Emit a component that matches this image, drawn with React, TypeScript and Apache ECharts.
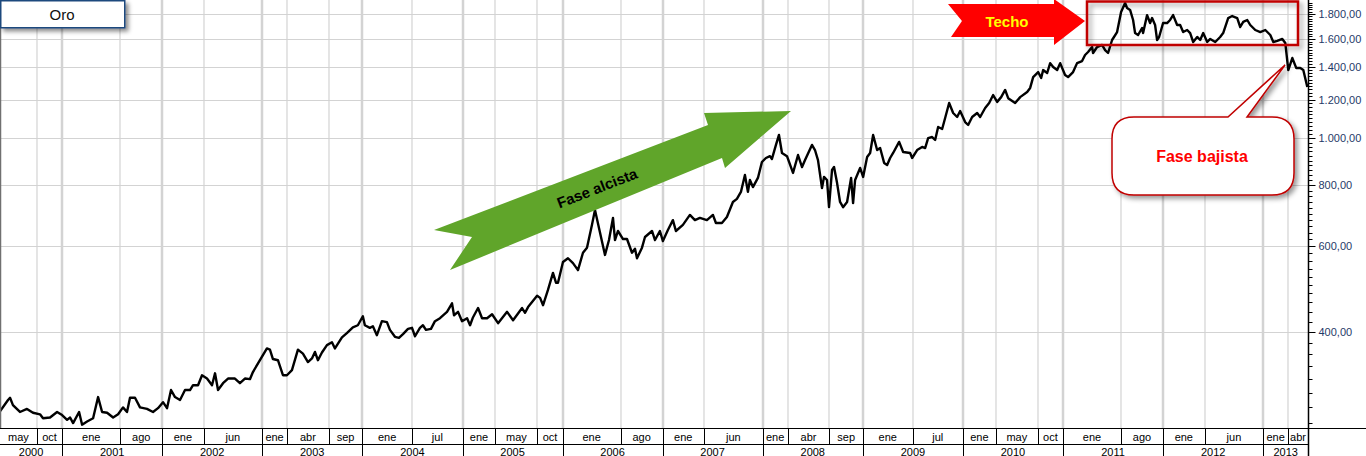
import React, { useEffect, useRef } from "react";
import * as echarts from "echarts";

const FONT = 'Arial, "Liberation Sans", Helvetica, sans-serif';

// Weekly-ish gold price (USD/oz); time in decimal years
const T_YEARS = [
  2000.380, 2000.460, 2000.480, 2000.509, 2000.579, 2000.649, 2000.709, 2000.779, 2000.809, 2000.879,
  2000.949, 2000.999, 2001.049, 2001.079, 2001.109, 2001.169, 2001.199, 2001.249, 2001.309, 2001.359,
  2001.399, 2001.449, 2001.509, 2001.559, 2001.608, 2001.648, 2001.678, 2001.728, 2001.778, 2001.848,
  2001.908, 2001.958, 2002.008, 2002.048, 2002.088, 2002.128, 2002.178, 2002.228, 2002.278, 2002.308,
  2002.358, 2002.398, 2002.448, 2002.498, 2002.528, 2002.558, 2002.608, 2002.658, 2002.727, 2002.777,
  2002.827, 2002.877, 2002.907, 2002.977, 2003.047, 2003.077, 2003.107, 2003.157, 2003.207, 2003.247,
  2003.297, 2003.357, 2003.407, 2003.457, 2003.497, 2003.527, 2003.557, 2003.597, 2003.647, 2003.697,
  2003.727, 2003.797, 2003.846, 2003.906, 2003.956, 2004.006, 2004.026, 2004.076, 2004.106, 2004.146,
  2004.196, 2004.246, 2004.276, 2004.326, 2004.366, 2004.406, 2004.456, 2004.496, 2004.526, 2004.575,
  2004.605, 2004.635, 2004.685, 2004.725, 2004.775, 2004.845, 2004.895, 2004.915, 2004.955, 2004.995,
  2005.045, 2005.075, 2005.105, 2005.155, 2005.195, 2005.245, 2005.295, 2005.355, 2005.445, 2005.505,
  2005.595, 2005.625, 2005.655, 2005.745, 2005.775, 2005.805, 2005.854, 2005.904, 2005.934, 2005.954,
  2006.004, 2006.054, 2006.104, 2006.154, 2006.204, 2006.244, 2006.294, 2006.324, 2006.364, 2006.424,
  2006.464, 2006.504, 2006.524, 2006.554, 2006.604, 2006.644, 2006.694, 2006.724, 2006.744, 2006.794,
  2006.824, 2006.894, 2006.924, 2006.973, 2007.003, 2007.053, 2007.103, 2007.133, 2007.203, 2007.273,
  2007.323, 2007.373, 2007.443, 2007.503, 2007.533, 2007.593, 2007.643, 2007.703, 2007.743, 2007.783,
  2007.823, 2007.853, 2007.873, 2007.903, 2007.953, 2007.993, 2008.033, 2008.073, 2008.093, 2008.133,
  2008.163, 2008.193, 2008.243, 2008.303, 2008.353, 2008.393, 2008.423, 2008.492, 2008.522, 2008.552,
  2008.592, 2008.612, 2008.642, 2008.662, 2008.692, 2008.712, 2008.742, 2008.772, 2008.802, 2008.842,
  2008.882, 2008.902, 2008.922, 2008.972, 2009.002, 2009.042, 2009.072, 2009.102, 2009.142, 2009.172,
  2009.212, 2009.242, 2009.272, 2009.302, 2009.362, 2009.402, 2009.472, 2009.492, 2009.542, 2009.592,
  2009.622, 2009.652, 2009.692, 2009.722, 2009.752, 2009.792, 2009.822, 2009.862, 2009.902, 2009.942,
  2009.972, 2010.022, 2010.052, 2010.092, 2010.142, 2010.172, 2010.222, 2010.262, 2010.302, 2010.342,
  2010.382, 2010.422, 2010.452, 2010.522, 2010.572, 2010.642, 2010.672, 2010.702, 2010.752, 2010.782,
  2010.802, 2010.842, 2010.872, 2010.902, 2010.942, 2010.972, 2011.021, 2011.051, 2011.101, 2011.141,
  2011.191, 2011.221, 2011.251, 2011.291, 2011.301, 2011.341, 2011.391, 2011.421, 2011.451, 2011.491,
  2011.541, 2011.581, 2011.621, 2011.641, 2011.671, 2011.701, 2011.721, 2011.751, 2011.791, 2011.801,
  2011.841, 2011.871, 2011.891, 2011.921, 2011.941, 2011.961, 2012.001, 2012.041, 2012.071, 2012.101,
  2012.141, 2012.171, 2012.201, 2012.241, 2012.271, 2012.301, 2012.341, 2012.371, 2012.401, 2012.441,
  2012.471, 2012.521, 2012.570, 2012.600, 2012.650, 2012.690, 2012.740, 2012.770, 2012.800, 2012.840,
  2012.870, 2012.920, 2012.970, 2013.020, 2013.070, 2013.100, 2013.140, 2013.190, 2013.220, 2013.250,
  2013.290, 2013.330, 2013.370, 2013.400, 2013.440,
];

const PRICES = [
  275, 290, 293, 283, 274, 278, 273, 271, 266, 267,
  274, 270, 264, 267, 260, 274, 258, 262, 266, 294,
  274, 273, 267, 271, 280, 274, 293, 293, 280, 278,
  274, 279, 287, 279, 304, 294, 290, 304, 304, 311,
  311, 326, 321, 311, 329, 304, 314, 321, 321, 314,
  321, 320, 331, 350, 370, 368, 352, 350, 326, 326,
  334, 368, 361, 347, 353, 364, 350, 363, 376, 381,
  370, 390, 398, 409, 413, 431, 413, 408, 411, 394,
  421, 419, 404, 391, 389, 396, 406, 408, 392, 408,
  413, 404, 406, 421, 427, 440, 458, 433, 440, 421,
  427, 413, 429, 448, 427, 427, 435, 417, 440, 423,
  448, 438, 450, 475, 470, 454, 488, 529, 505, 505,
  557, 567, 554, 536, 582, 596, 664, 712, 654, 576,
  618, 686, 618, 645, 621, 621, 582, 593, 567, 596,
  627, 645, 618, 645, 615, 648, 679, 645, 664, 696,
  679, 686, 679, 696, 670, 670, 689, 740, 751, 776,
  841, 776, 821, 794, 829, 894, 911, 919, 907, 969,
  1016, 933, 919, 849, 924, 873, 902, 969, 946, 902,
  790, 833, 821, 722, 861, 873, 810, 740, 722, 740,
  829, 736, 821, 869, 833, 915, 933, 1016, 946, 955,
  890, 881, 911, 933, 983, 937, 933, 911, 946, 960,
  955, 1001, 1006, 992, 1055, 1045, 1101, 1182, 1127, 1106,
  1138, 1080, 1065, 1106, 1127, 1106, 1154, 1182, 1227, 1188,
  1215, 1257, 1209, 1182, 1215, 1245, 1269, 1336, 1368, 1330,
  1381, 1362, 1427, 1401, 1381, 1427, 1349, 1336, 1368, 1427,
  1441, 1483, 1504, 1540, 1497, 1540, 1555, 1518, 1497, 1592,
  1653, 1818, 1897, 1852, 1835, 1750, 1645, 1630, 1685, 1645,
  1791, 1725, 1766, 1709, 1592, 1615, 1725, 1725, 1750, 1791,
  1709, 1709, 1653, 1669, 1645, 1577, 1615, 1592, 1645, 1577,
  1600, 1577, 1615, 1645, 1766, 1783, 1766, 1693, 1734, 1750,
  1709, 1669, 1653, 1669, 1630, 1577, 1585, 1600, 1570, 1381,
  1462, 1394, 1394, 1381, 1275,
];

const MONTH_STARTS = [
  "2000-05-01", "2000-10-01",
  "2001-01-01", "2001-08-01",
  "2002-01-01", "2002-06-01",
  "2003-01-01", "2003-04-01", "2003-09-01",
  "2004-01-01", "2004-07-01",
  "2005-01-01", "2005-05-01", "2005-10-01",
  "2006-01-01", "2006-08-01",
  "2007-01-01", "2007-06-01",
  "2008-01-01", "2008-04-01", "2008-09-01",
  "2009-01-01", "2009-07-01",
  "2010-01-01", "2010-05-01", "2010-10-01",
  "2011-01-01", "2011-08-01",
  "2012-01-01", "2012-06-01",
  "2013-01-01", "2013-04-01",
];
const MONTH_LABELS = [
  "may", "oct",
  "ene", "ago",
  "ene", "jun",
  "ene", "abr", "sep",
  "ene", "jul",
  "ene", "may", "oct",
  "ene", "ago",
  "ene", "jun",
  "ene", "abr", "sep",
  "ene", "jul",
  "ene", "may", "oct",
  "ene", "ago",
  "ene", "jun",
  "ene", "abr",
];
const YEAR_LABELS = [
  "2000", "2001", "2002", "2003", "2004", "2005", "2006",
  "2007", "2008", "2009", "2010", "2011", "2012", "2013",
];

const Y_LABEL_VALUES = [400, 600, 800, 1000, 1200, 1400, 1600, 1800];
const MINOR_TICK_START = 260;
const MINOR_TICK_END = 1900;
const MINOR_TICK_STEP = 20;

const X_MIN_YEAR = 2000.38;
const X_MAX_YEAR = 2013.447;
const Y_MIN = 254;
const Y_MAX = 1923.6;

const toTs = (y: number) => {
  const yr = Math.floor(y);
  const a = Date.UTC(yr, 0, 1);
  const b = Date.UTC(yr + 1, 0, 1);
  return a + (y - yr) * (b - a);
};
const parseDay = (s: string) => Date.parse(s + "T00:00:00Z");
const X_MIN = toTs(X_MIN_YEAR);
const X_MAX = toTs(X_MAX_YEAR);

const fmtPrice = (v: number) => {
  const [i, d] = v.toFixed(2).split(".");
  return i.replace(/\B(?=(\d{3})+(?!\d))/g, ".") + "," + d;
};

// callout bubble with pointer
const CALLOUT_D =
  "M 1134 117 L 1228 117 L 1285 65 L 1247 117 L 1272 117 Q 1294 117 1294 139 " +
  "L 1294 173 Q 1294 195 1272 195 L 1134 195 Q 1112 195 1112 173 L 1112 139 Q 1112 117 1134 117 Z";
echarts.graphic.registerShape("calloutBox", echarts.graphic.extendPath(CALLOUT_D, {}) as any);

const txt = (text: string, x: number, y: number, font: string, fill: string, align = "center", va = "middle") => ({
  type: "text",
  style: { text, x, y, font, fill, align, verticalAlign: va, textAlign: align, textVerticalAlign: va },
});

export default function App() {
  const ref = useRef<HTMLDivElement>(null);

  useEffect(() => {
    if (!ref.current) return;
    const chart = echarts.init(ref.current, null, { renderer: "svg" });

    const lineData = T_YEARS.map((t, i) => [toTs(t), PRICES[i]]);
    const starts = MONTH_STARTS.map(parseDay);

    const option: any = {
      animation: false,
      backgroundColor: "#ffffff",
      grid: { left: 0, right: 58, top: 0, bottom: 28, containLabel: false },
      xAxis: {
        type: "time",
        min: X_MIN,
        max: X_MAX,
        axisLine: { show: false },
        axisTick: { show: false },
        axisLabel: { show: false },
        splitLine: { show: false },
      },
      yAxis: {
        type: "log",
        logBase: 10,
        min: Y_MIN,
        max: Y_MAX,
        position: "right",
        axisLine: { show: false },
        axisTick: { show: false },
        axisLabel: { show: false },
        splitLine: { show: false },
      },
      series: [
        {
          type: "custom",
          name: "gridBack",
          coordinateSystem: "cartesian2d",
          silent: true,
          clip: false,
          z: 1,
          data: [[X_MIN, 1000]],
          renderItem: (_p: any, api: any) => {
            const children: any[] = [];
            const [left, bottom] = api.coord([X_MIN, Y_MIN]);
            const [right, top] = api.coord([X_MAX, Y_MAX]);
            Y_LABEL_VALUES.forEach((v) => {
              const y = Math.round(api.coord([X_MIN, v])[1]) + 0.5;
              children.push({
                type: "line",
                shape: { x1: left, y1: y, x2: right, y2: y },
                style: { stroke: "#d3d3d3", lineWidth: 1 },
              });
            });
            MONTH_STARTS.forEach((d, i) => {
              const ts = starts[i];
              if (ts <= X_MIN || ts >= X_MAX) return;
              const x = Math.round(api.coord([ts, Y_MIN])[0]);
              const isYear = d.endsWith("-01-01");
              children.push({
                type: "line",
                shape: { x1: x, y1: top, x2: x, y2: bottom },
                style: { stroke: "#d3d3d3", lineWidth: isYear ? 2.5 : 1.2 },
              });
            });
            return { type: "group", children };
          },
        },
        {
          type: "line",
          name: "Oro",
          data: lineData,
          showSymbol: false,
          symbol: "none",
          z: 3,
          lineStyle: { color: "#000000", width: 2.4, join: "round" },
          silent: true,
        },
        {
          type: "custom",
          name: "axesFront",
          coordinateSystem: "cartesian2d",
          silent: true,
          clip: false,
          z: 4,
          data: [[X_MIN, 1000]],
          renderItem: (_p: any, api: any) => {
            const children: any[] = [];
            const [left, bottomRaw] = api.coord([X_MIN, Y_MIN]);
            const [right, top] = api.coord([X_MAX, Y_MAX]);
            const bottom = Math.round(bottomRaw) + 0.5;
            const rowMid = bottom + 16;
            const rowEnd = 456;
            const axisX = Math.round(right) + 0.5;
            // left border
            children.push({
              type: "line",
              shape: { x1: 0.5, y1: 28, x2: 0.5, y2: bottom },
              style: { stroke: "#707070", lineWidth: 1.5 },
            });
            // bottom axis line and row line
            children.push({
              type: "line",
              shape: { x1: 0, y1: bottom, x2: 1366, y2: bottom },
              style: { stroke: "#000", lineWidth: 1 },
            });
            children.push({
              type: "line",
              shape: { x1: 0, y1: rowMid, x2: axisX, y2: rowMid },
              style: { stroke: "#000", lineWidth: 1 },
            });
            // right axis line
            children.push({
              type: "line",
              shape: { x1: axisX, y1: top, x2: axisX, y2: rowEnd },
              style: { stroke: "#000", lineWidth: 1.5 },
            });
            // month segments
            MONTH_STARTS.forEach((d, i) => {
              const s = Math.max(starts[i], X_MIN);
              const e = i + 1 < starts.length ? Math.min(starts[i + 1], X_MAX) : X_MAX;
              const xs = api.coord([s, Y_MIN])[0];
              const xe = api.coord([e, Y_MIN])[0];
              if (starts[i] > X_MIN) {
                const x = Math.round(xs) + 0.5;
                children.push({
                  type: "line",
                  shape: { x1: x, y1: bottom, x2: x, y2: rowMid },
                  style: { stroke: "#000", lineWidth: 1 },
                });
              }
              children.push(txt(MONTH_LABELS[i], (xs + xe) / 2, bottom + 8.5, "11px " + FONT, "#000"));
            });
            // year segments
            YEAR_LABELS.forEach((yl, i) => {
              const yr = Number(yl);
              const sRaw = Date.UTC(yr, 0, 1);
              const s = Math.max(sRaw, X_MIN);
              const e = Math.min(Date.UTC(yr + 1, 0, 1), X_MAX);
              const xs = api.coord([s, Y_MIN])[0];
              const xe = api.coord([e, Y_MIN])[0];
              if (sRaw > X_MIN) {
                const x = Math.round(xs) + 0.5;
                children.push({
                  type: "line",
                  shape: { x1: x, y1: rowMid, x2: x, y2: rowEnd },
                  style: { stroke: "#000", lineWidth: 1 },
                });
              }
              children.push(txt(yl, (xs + xe) / 2, rowMid + 7, "11px " + FONT, "#000"));
            });
            // minor ticks
            for (let v = MINOR_TICK_START; v <= MINOR_TICK_END; v += MINOR_TICK_STEP) {
              if (Y_LABEL_VALUES.indexOf(v) >= 0) continue;
              if (v > Y_MAX) continue;
              const y = Math.round(api.coord([X_MAX, v])[1]) + 0.5;
              children.push({
                type: "line",
                shape: { x1: axisX, y1: y, x2: axisX + 4, y2: y },
                style: { stroke: "#000", lineWidth: 1 },
              });
            }
            // major ticks + labels
            Y_LABEL_VALUES.forEach((v) => {
              const yy = api.coord([X_MAX, v])[1];
              const y = Math.round(yy) + 0.5;
              children.push({
                type: "line",
                shape: { x1: axisX, y1: y, x2: axisX + 7, y2: y },
                style: { stroke: "#000", lineWidth: 1 },
              });
              children.push(txt(fmtPrice(v), axisX + 10, yy, "11px " + FONT, "#1f3a68", "left"));
            });
            return { type: "group", children };
          },
        },
      ],
      graphic: [
        {
          type: "rect",
          z: 100,
          shape: { x: 0.75, y: 0.75, width: 124, height: 27 },
          style: {
            fill: "#ffffff",
            stroke: "#1f497d",
            lineWidth: 1.5,
            shadowBlur: 4,
            shadowOffsetX: 3,
            shadowOffsetY: 3,
            shadowColor: "rgba(0,0,0,0.45)",
          },
        },
        { ...txt("Oro", 62, 14.5, "15px " + FONT, "#111"), z: 101 },
        {
          type: "polygon",
          z: 100,
          shape: {
            points: [
              [434, 230], [708, 125], [704, 113], [791, 111],
              [725, 168], [722, 158], [450, 270], [472, 237],
            ],
          },
          style: { fill: "#60a52a" },
        },
        {
          type: "text",
          z: 101,
          x: 597,
          y: 188,
          rotation: 0.37,
          style: {
            text: "Fase alcista",
            x: 0,
            y: 0,
            font: "bold 15px " + FONT,
            fill: "#000",
            align: "center",
            verticalAlign: "middle",
            textAlign: "center",
            textVerticalAlign: "middle",
          },
        },
        {
          type: "polygon",
          z: 100,
          shape: {
            points: [
              [948, 4], [1054, 4], [1054, -1], [1085, 21],
              [1054, 45], [1054, 37], [951, 37], [962, 21],
            ],
          },
          style: { fill: "#ff0000" },
        },
        { ...txt("Techo", 1007, 21.5, "bold 15px " + FONT, "#ffff00"), z: 101 },
        {
          type: "rect",
          z: 100,
          shape: { x: 1087, y: 1.5, width: 211, height: 43.5 },
          style: {
            fill: "none",
            stroke: "#c00000",
            lineWidth: 2.5,
            shadowBlur: 5,
            shadowOffsetX: 3,
            shadowOffsetY: 3,
            shadowColor: "rgba(0,0,0,0.4)",
          },
        },
        {
          type: "calloutBox",
          z: 100,
          x: 0,
          y: 0,
          style: {
            fill: "#ffffff",
            stroke: "#c00000",
            lineWidth: 1.5,
            shadowBlur: 5,
            shadowOffsetX: 3,
            shadowOffsetY: 3,
            shadowColor: "rgba(0,0,0,0.4)",
          },
        },
        { ...txt("Fase bajista", 1202, 156, "bold 16px " + FONT, "#ff0000"), z: 101 },
      ],
    };

    chart.setOption(option);
    return () => chart.dispose();
  }, []);

  return (
    <div
      ref={ref}
      style={{ position: "absolute", left: 0, top: 0, width: 1366, height: 456, background: "#fff" }}
    />
  );
}
